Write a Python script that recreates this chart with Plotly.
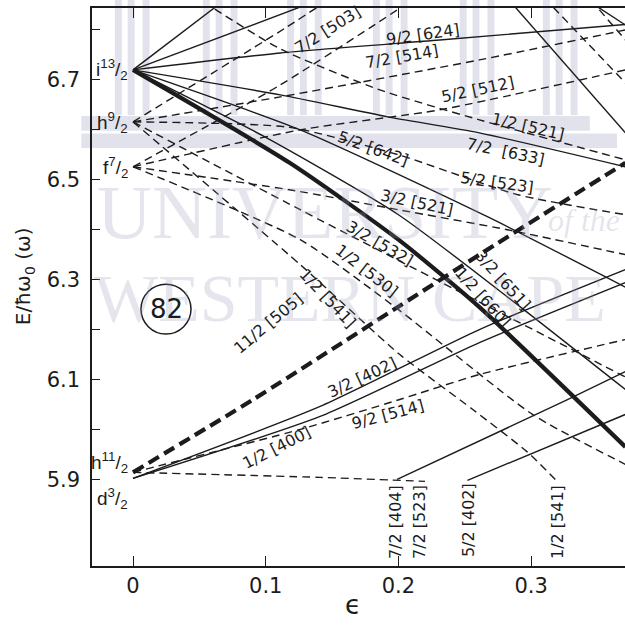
import plotly.graph_objects as go

INK = "#1c1c1c"

# ---------------- data: deformation eps, energy E/hbar w0 ----------------
# N=6 (solid) levels from i13/2
eps_606 = [0.0, 0.07];                         E_606 = [6.72, 6.862]
eps_615 = [0.0, 0.15];                         E_615 = [6.72, 6.87]
eps_624 = [0.0, 0.111, 0.231, 0.371];          E_624 = [6.72, 6.754, 6.78, 6.811]
eps_633 = [0.0, 0.111, 0.192, 0.261, 0.371];   E_633 = [6.72, 6.67, 6.626, 6.594, 6.526]
eps_642 = [0.0, 0.126, 0.267, 0.371];          E_642 = [6.72, 6.60, 6.426, 6.285]
eps_651 = [0.0, 0.1, 0.2, 0.292, 0.371];       E_651 = [6.72, 6.585, 6.43, 6.245, 6.08]
eps_660 = [0.0, 0.118, 0.2, 0.261, 0.371];     E_660 = [6.72, 6.534, 6.38, 6.245, 5.965]
# steep solid levels entering from above
eps_sa = [0.28, 0.371];                        E_sa = [6.87, 6.594]
eps_sb = [0.345, 0.371];                       E_sb = [6.855, 6.81]
# N=5 (dashed) levels from h9/2 and f7/2
eps_505h = [0.0, 0.116, 0.15];                 E_505h = [6.616, 6.806, 6.865]
eps_503 = [0.0, 0.111, 0.199, 0.21];           E_503 = [6.526, 6.69, 6.84, 6.86]
eps_514h = [0.0, 0.111, 0.261, 0.371];         E_514h = [6.616, 6.666, 6.74, 6.80]
eps_512 = [0.0, 0.126, 0.231, 0.371];          E_512 = [6.526, 6.60, 6.64, 6.72]
eps_521a = [0.045, 0.111, 0.186, 0.261, 0.371]; E_521a = [6.87, 6.762, 6.68, 6.62, 6.54]
eps_523h = [0.0, 0.118, 0.2, 0.29, 0.371];     E_523h = [6.616, 6.605, 6.55, 6.47, 6.43]
eps_521b = [0.0, 0.118, 0.2, 0.282, 0.371];    E_521b = [6.526, 6.48, 6.44, 6.40, 6.35]
eps_532 = [0.0, 0.126, 0.371];                 E_532 = [6.616, 6.44, 6.105]
eps_530 = [0.0, 0.126, 0.2, 0.301, 0.371];     E_530 = [6.526, 6.38, 6.24, 6.03, 5.93]
eps_541 = [0.0, 0.126, 0.201, 0.256, 0.297, 0.32]; E_541 = [6.616, 6.33, 6.15, 6.04, 5.955, 5.895]
eps_da = [0.31, 0.371];                        E_da = [6.864, 6.694]
eps_db = [0.345, 0.371];                       E_db = [6.86, 6.78]
# lower levels from h11/2 and d3/2
eps_505l = [0.0, 0.09, 0.264, 0.371];          E_505l = [5.914, 6.059, 6.355, 6.534]
eps_514l = [0.0, 0.126, 0.201, 0.261, 0.371];  E_514l = [5.914, 6.0, 6.06, 6.11, 6.18]
eps_523l = [0.0, 0.141, 0.22];                 E_523l = [5.914, 5.904, 5.896]
eps_402 = [0.0, 0.141, 0.261, 0.371];          E_402 = [5.902, 6.046, 6.2, 6.32]
eps_400 = [0.0, 0.141, 0.261, 0.371];          E_400 = [5.902, 6.026, 6.174, 6.294]
eps_404 = [0.199, 0.327, 0.371];               E_404 = [5.9, 6.059, 6.116]
eps_402b = [0.252, 0.371];                     E_402b = [5.898, 6.03]

# line labels (text, eps, E, angle)
lab_text = ["7/2 [503]", "9/2 [624]", "7/2 [514]", "5/2 [512]", "1/2 [521]", "5/2 [642]",
            "7/2  [633]", "5/2 [523]", "3/2 [521]", "3/2 [532]", "1/2 [530]", "1/2 [541]",
            "3/2 [651]", "1/2 [660]", "11/2 [505]", "3/2 [402]", "9/2 [514]", "1/2 [400]"]
lab_eps = [0.147, 0.2185, 0.2027, 0.260, 0.2977, 0.181, 0.2803, 0.2743, 0.214, 0.186, 0.176,
           0.147, 0.279, 0.264, 0.1017, 0.1726, 0.192, 0.1085]
lab_E = [6.800, 6.790, 6.746, 6.680, 6.606, 6.562, 6.556, 6.494, 6.454, 6.373, 6.319, 6.263,
         6.299, 6.265, 6.213, 6.105, 6.029, 5.963]
lab_ang = [-32, -8, -10, -12, 13, 20, 12, 8, 12, 30, 38, 47, 48, 48, -40, -25, -15, -27]

vlab_text = ["7/2 [404]", "7/2 [523]", "5/2 [402]", "1/2 [541]"]
vlab_eps = [0.198, 0.216, 0.253, 0.320]
vlab_E = [5.814, 5.814, 5.818, 5.814]

# spherical shell-model states at eps = 0
sph_text = ["i<sup>13</sup>/<sub>2</sub>", "h<sup>9</sup>/<sub>2</sub>", "f<sup>7</sup>/<sub>2</sub>",
            "h<sup>11</sup>/<sub>2</sub>", "d<sup>3</sup>/<sub>2</sub>"]
sph_E = [6.72, 6.614, 6.524, 5.934, 5.862]

y_ticks = [5.9, 6.1, 6.3, 6.5, 6.7]
y_minor = [6.0, 6.2, 6.4, 6.6, 6.8]
x_ticks = [0, 0.1, 0.2, 0.3]
x_ticktext = ["0", "0.1", "0.2", "0.3"]

solid = [(eps_606, E_606), (eps_615, E_615), (eps_624, E_624), (eps_633, E_633),
         (eps_642, E_642), (eps_651, E_651), (eps_sa, E_sa), (eps_sb, E_sb),
         (eps_402, E_402), (eps_400, E_400), (eps_404, E_404), (eps_402b, E_402b)]
dashed = [(eps_505h, E_505h), (eps_503, E_503), (eps_514h, E_514h), (eps_512, E_512),
          (eps_521a, E_521a), (eps_523h, E_523h), (eps_521b, E_521b), (eps_532, E_532),
          (eps_530, E_530), (eps_541, E_541), (eps_da, E_da), (eps_db, E_db),
          (eps_514l, E_514l), (eps_523l, E_523l)]

fig = go.Figure()
for xs, ys in solid:
    fig.add_trace(go.Scatter(x=xs, y=ys, mode="lines", line=dict(color=INK, width=1.4, shape="spline", smoothing=0.6),
                             hoverinfo="skip", showlegend=False))
for xs, ys in dashed:
    fig.add_trace(go.Scatter(x=xs, y=ys, mode="lines",
                             line=dict(color=INK, width=1.4, dash="8px,5px", shape="spline", smoothing=0.6),
                             hoverinfo="skip", showlegend=False))
fig.add_trace(go.Scatter(x=eps_660, y=E_660, mode="lines",
                         line=dict(color=INK, width=4.2, shape="spline", smoothing=0.6),
                         hoverinfo="skip", showlegend=False))
fig.add_trace(go.Scatter(x=eps_505l, y=E_505l, mode="lines",
                         line=dict(color=INK, width=4.2, dash="12px,6px", shape="spline", smoothing=0.6),
                         hoverinfo="skip", showlegend=False))

# ---- faint scanned-page watermark (decoration, paper coordinates) ----
WMC = "rgba(150,150,185,0.25)"
BAR = "rgba(160,160,195,0.30)"
shapes = []
for g in [0.043, 0.208, 0.366, 0.527, 0.690, 0.846]:
    for off in [0.0, 0.024, 0.052]:
        shapes.append(dict(type="rect", xref="paper", yref="paper", x0=g + off, x1=g + off + 0.013,
                           y0=0.808, y1=1.015, line=dict(width=0), fillcolor=BAR, layer="below"))
shapes.append(dict(type="rect", xref="paper", yref="paper", x0=-0.02, x1=0.934, y0=0.780, y1=0.8065,
                   line=dict(width=0), fillcolor=BAR, layer="below"))
shapes.append(dict(type="rect", xref="paper", yref="paper", x0=-0.02, x1=0.985, y0=0.749, y1=0.775,
                   line=dict(width=0), fillcolor=BAR, layer="below"))
shapes.append(dict(type="circle", xref="x", yref="y", x0=0.006, x1=0.0437, y0=6.191, y1=6.291,
                   line=dict(color=INK, width=1.5)))

ann = []
ann.append(dict(xref="paper", yref="paper", x=0.005, y=0.635, xanchor="left", yanchor="middle",
                text="UNIVERSITY", showarrow=False,
                font=dict(family="Liberation Serif", size=76, color=WMC)))
ann.append(dict(xref="paper", yref="paper", x=0.995, y=0.62, xanchor="right", yanchor="middle",
                text="<i>of the</i>", showarrow=False,
                font=dict(family="Liberation Serif", size=32, color=WMC)))
ann.append(dict(xref="paper", yref="paper", x=0.0, y=0.48, xanchor="left", yanchor="middle",
                text="WESTERN CAPE", showarrow=False,
                font=dict(family="Liberation Serif", size=68, color=WMC)))

LBL = dict(family="DejaVu Sans", size=16, color=INK)
for t, x, y, a in zip(lab_text, lab_eps, lab_E, lab_ang):
    ann.append(dict(x=x, y=y, text=t, textangle=a, showarrow=False, font=LBL))
for t, x, y in zip(vlab_text, vlab_eps, vlab_E):
    ann.append(dict(x=x, y=y, text=t, textangle=-90, showarrow=False, font=LBL))
for t, y in zip(sph_text, sph_E):
    ann.append(dict(x=-0.002, y=y, text=t, xanchor="right", showarrow=False,
                    font=dict(family="Liberation Sans", size=19, color=INK)))
ann.append(dict(x=0.0249, y=6.241, text="82", showarrow=False,
                font=dict(family="DejaVu Sans", size=26, color=INK)))
# axis titles
ann.append(dict(xref="paper", yref="paper", x=-0.127, y=0.52, xanchor="center", yanchor="middle",
                text="E/ħω<sub>0</sub> (ω)", textangle=-90, showarrow=False,
                font=dict(family="DejaVu Sans", size=20, color=INK)))
ann.append(dict(xref="paper", yref="paper", x=0.49, y=-0.07, xanchor="center", yanchor="middle",
                text="ϵ", showarrow=False, font=dict(family="DejaVu Sans", size=26, color=INK)))

fig.update_layout(
    width=625, height=626,
    margin=dict(l=92, r=0, t=8, b=60, autoexpand=False),
    paper_bgcolor="white", plot_bgcolor="rgba(0,0,0,0)",
    annotations=ann,
    shapes=shapes,
    xaxis=dict(range=[-0.0309, 0.3707], tickvals=x_ticks, ticktext=x_ticktext,
               ticks="inside", ticklen=10, tickwidth=1.4, tickcolor=INK,
               showline=True, linecolor=INK, linewidth=1.5, mirror="ticks",
               showgrid=False, zeroline=False, automargin=False,
               tickfont=dict(family="DejaVu Sans", size=21, color=INK)),
    yaxis=dict(range=[5.7265, 6.844], tickvals=y_ticks, ticktext=[str(v) for v in y_ticks],
               ticks="inside", ticklen=8, tickwidth=1.4, tickcolor=INK,
               minor=dict(tickvals=y_minor, ticks="inside", ticklen=8, tickwidth=1.4, tickcolor=INK),
               showline=True, linecolor=INK, linewidth=1.5, automargin=False,
               showgrid=False, zeroline=False, ticklabelstandoff=6,
               tickfont=dict(family="DejaVu Sans", size=21, color=INK)),
)
fig.write_html("out.html", config={"displayModeBar": False},
               post_script="document.body.style.margin='0';document.body.style.overflow='hidden';")
